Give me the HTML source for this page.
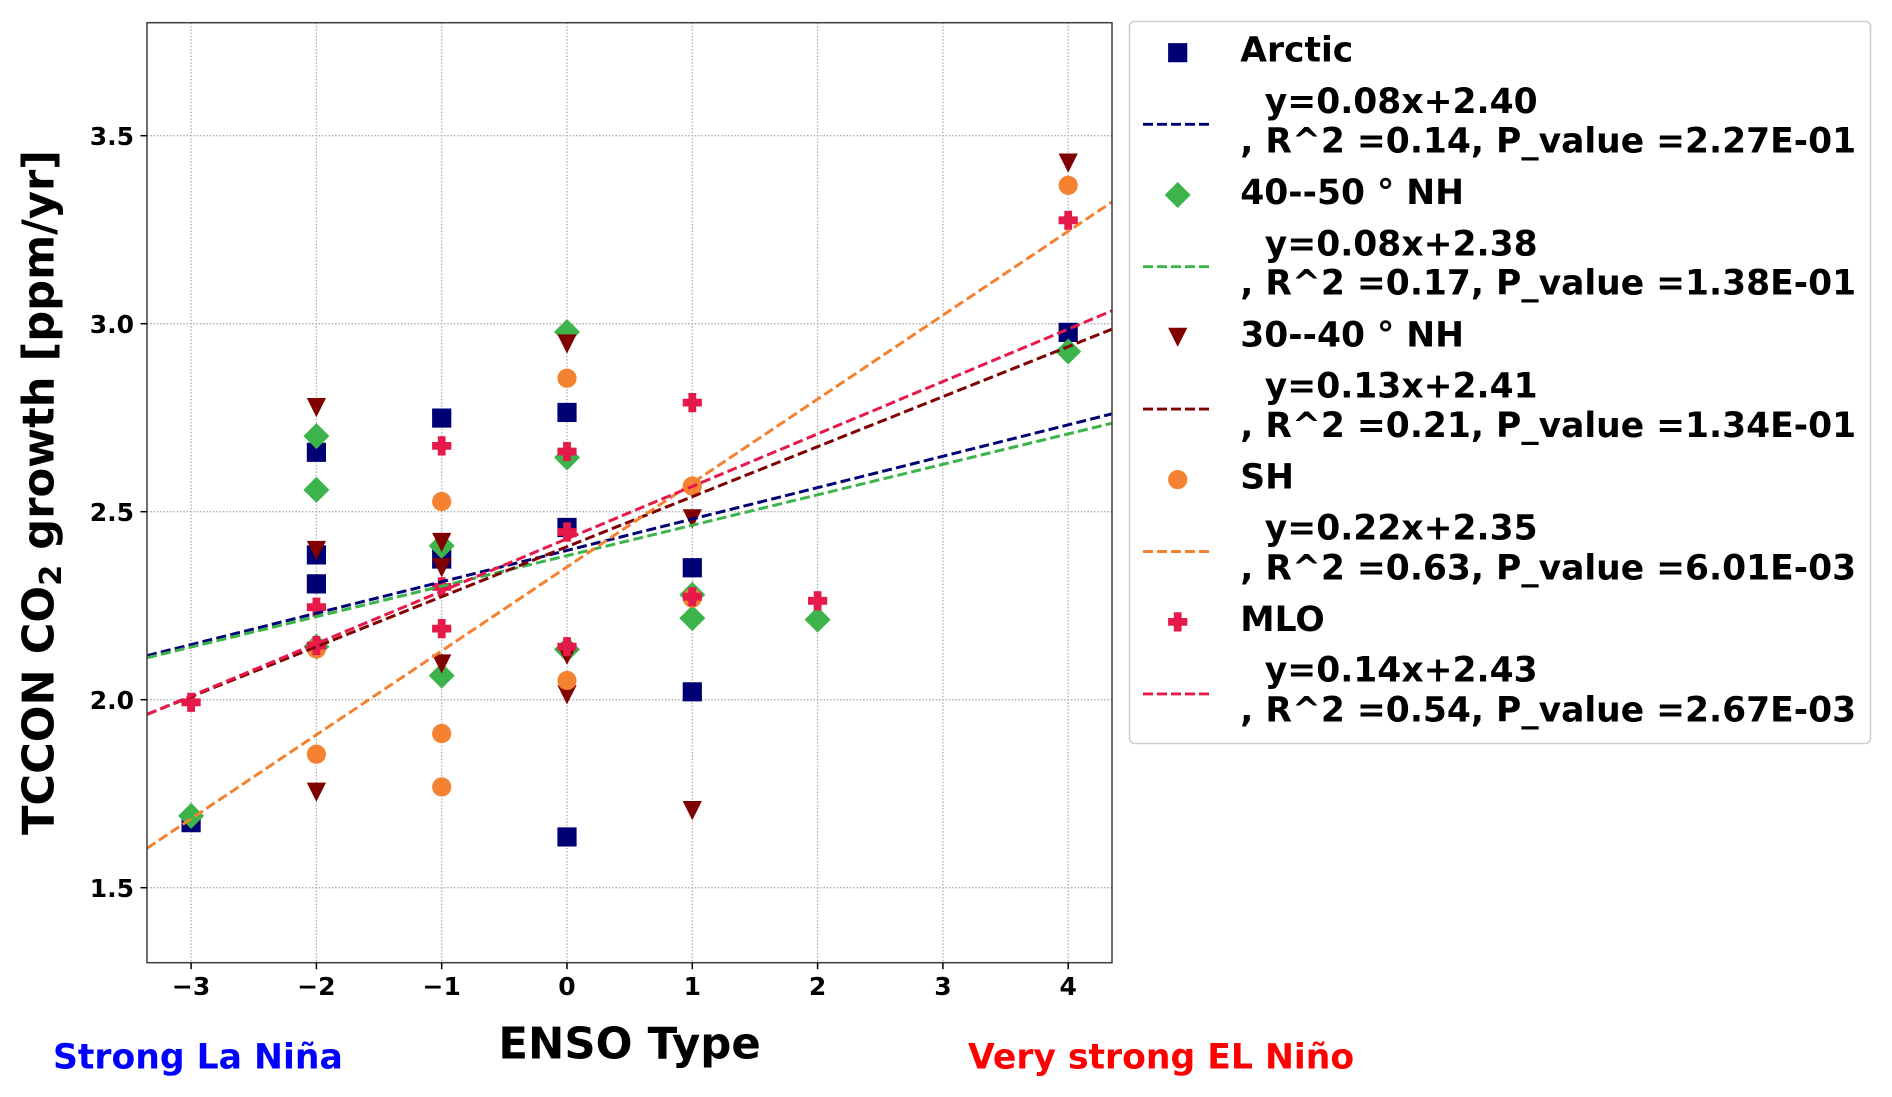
<!DOCTYPE html>
<html lang="en">
<head>
<meta charset="utf-8">
<title>TCCON CO2 growth vs ENSO Type</title>
<style>
html,body{margin:0;padding:0;background:#fff;}
#chart{display:block;width:1892px;height:1097px;filter:blur(0.3px);}
text{font-family:"DejaVu Sans","Liberation Sans",sans-serif;font-weight:bold;fill:#000;}
.leg{font-size:34.5px;}
.tick{font-size:25px;}
</style>
</head>
<body>
<svg id="chart" xmlns="http://www.w3.org/2000/svg" width="1892" height="1097" viewBox="0 0 1892 1097">
  <rect x="0" y="0" width="1892" height="1097" fill="#fff"/>
  <defs><clipPath id="plot-clip"><rect x="147" y="22.7" width="965" height="940"/></clipPath></defs>
  <g id="grid"></g>
  <g id="points"></g>
  <g id="fits" clip-path="url(#plot-clip)"></g>
  <rect x="147" y="22.7" width="965" height="940" fill="none" stroke="#3d3d3d" stroke-width="1.5"/>
  <g id="ticks"></g>

  <text transform="translate(53.4,492.5) rotate(-90)" text-anchor="middle" font-size="43.2">TCCON CO<tspan dy="7.6" font-size="30.4">2</tspan><tspan dy="-7.6"> growth [ppm/yr]</tspan></text>
  <text x="629.6" y="1058.5" text-anchor="middle" font-size="43.4">ENSO Type</text>
  <text x="53" y="1068.5" font-size="34.6" style="fill:#0000ff">Strong La Niña</text>
  <text x="968" y="1068.5" font-size="34.6" style="fill:#ff0000">Very strong EL Niño</text>

  <g>
    <rect x="1134" y="21.5" width="736.5" height="722" rx="5" ry="5" fill="#fff" stroke="#d0d0d0" stroke-width="1.6" transform="translate(-4.5,0) scale(1,1)" style="width:741px"/>
    <g id="legend-glyphs"></g>
    <text class="leg" x="1240.3" y="61.7">Arctic</text>
    <text class="leg" x="1264.8" y="113">y=0.08x+2.40</text>
    <text class="leg" x="1240.3" y="152.7">, R^2 =0.14, P_value =2.27E-01</text>
    <text class="leg" x="1240.3" y="204">40--50 ° NH</text>
    <text class="leg" x="1264.8" y="255.3">y=0.08x+2.38</text>
    <text class="leg" x="1240.3" y="294.7">, R^2 =0.17, P_value =1.38E-01</text>
    <text class="leg" x="1240.3" y="346.6">30--40 ° NH</text>
    <text class="leg" x="1264.8" y="397.4">y=0.13x+2.41</text>
    <text class="leg" x="1240.3" y="436.8">, R^2 =0.21, P_value =1.34E-01</text>
    <text class="leg" x="1240.3" y="488.4">SH</text>
    <text class="leg" x="1264.8" y="539.4">y=0.22x+2.35</text>
    <text class="leg" x="1240.3" y="579.3">, R^2 =0.63, P_value =6.01E-03</text>
    <text class="leg" x="1240.3" y="630.9">MLO</text>
    <text class="leg" x="1264.8" y="681.7">y=0.14x+2.43</text>
    <text class="leg" x="1240.3" y="721.7">, R^2 =0.54, P_value =2.67E-03</text>
  </g>
</svg>

<script>
const xTickValues = [-3, -2, -1, 0, 1, 2, 3, 4];
const xTickLabels = ['\u22123', '\u22122', '\u22121', '0', '1', '2', '3', '4'];
const yTickValues = [1.5, 2.0, 2.5, 3.0, 3.5];
const yTickLabels = ['1.5', '2.0', '2.5', '3.0', '3.5'];

const seriesNames = ['arctic', '40-50-nh', '30-40-nh', 'sh', 'mlo'];

const arcticX = [-3, -2, -2, -2, -1, -1, 0, 0, 0, 1, 1, 4];
const arcticY = [1.673, 2.658, 2.385, 2.308, 2.749, 2.374, 2.764, 2.458, 1.635, 2.351, 2.021, 2.977];

const nh4050X = [-3, -2, -2, -2, -1, -1, 0, 0, 0, 1, 1, 2, 4];
const nh4050Y = [1.691, 2.701, 2.558, 2.141, 2.409, 2.064, 2.978, 2.644, 2.134, 2.279, 2.217, 2.213, 2.926];

const nh3040X = [-2, -2, -2, -1, -1, -1, 0, 0, 0, 1, 1, 4];
const nh3040Y = [2.777, 2.397, 1.754, 2.418, 2.351, 2.095, 2.946, 2.118, 2.013, 2.481, 1.705, 3.427];

const shX = [-2, -2, -1, -1, -1, 0, 0, 1, 1, 4];
const shY = [2.135, 1.855, 2.527, 1.910, 1.768, 2.855, 2.051, 2.568, 2.270, 3.368];

const mloX = [-3, -2, -2, -1, -1, -1, 0, 0, 0, 1, 1, 2, 4];
const mloY = [1.993, 2.246, 2.144, 2.675, 2.300, 2.189, 2.660, 2.446, 2.141, 2.790, 2.274, 2.263, 3.275];

const fitSlopes = [0.0835, 0.0810, 0.1330, 0.2232, 0.1394];
const fitIntercepts = [2.397, 2.383, 2.407, 2.353, 2.428];

const NS = 'http://www.w3.org/2000/svg';
const plot = {left: 147, right: 1112, top: 22.7, bottom: 962.7};
const xDomainMin = -3.352, xDomainMax = 4.35;
const colors = ['#000075', '#3cb44b', '#800000', '#f58231', '#e6194b'];
const shapes = ['square', 'diamond', 'triangle', 'circle', 'plus'];

function xScale(v) { return 567 + 125.3 * v; }
function yScale(v) { return 699.7 - (v - 2) * 376; }

function markerPath(shape, cx, cy) {
  const r = 9.6;
  if (shape === 'square') return `M${cx-r} ${cy-r}H${cx+r}V${cy+r}H${cx-r}Z`;
  if (shape === 'diamond') { const d = 13; return `M${cx} ${cy-d}L${cx+d} ${cy}L${cx} ${cy+d}L${cx-d} ${cy}Z`; }
  if (shape === 'triangle') return `M${cx-r} ${cy-r}H${cx+r}L${cx} ${cy+r}Z`;
  if (shape === 'circle') return `M${cx-r} ${cy}A${r} ${r} 0 1 0 ${cx+r} ${cy}A${r} ${r} 0 1 0 ${cx-r} ${cy}Z`;
  const a = 3.9;
  return `M${cx-a} ${cy-r}H${cx+a}V${cy-a}H${cx+r}V${cy+a}H${cx+a}V${cy+r}H${cx-a}V${cy+a}H${cx-r}V${cy-a}H${cx-a}Z`;
}

const gridLayer = document.getElementById('grid');
const tickLayer = document.getElementById('ticks');
const pointLayer = document.getElementById('points');
const fitLayer = document.getElementById('fits');
const legendLayer = document.getElementById('legend-glyphs');

function styleGrid(line) {
  line.setAttribute('stroke', '#a8a8a8');
  line.setAttribute('stroke-width', '1.3');
  line.setAttribute('stroke-dasharray', '1.4 1.9');
}
function styleTick(line) {
  line.setAttribute('stroke', '#000');
  line.setAttribute('stroke-width', '1.5');
}

xTickValues.forEach(function (v, i) {
  const px = xScale(v);
  const g = document.createElementNS(NS, 'line');
  g.setAttribute('x1', px); g.setAttribute('x2', px);
  g.setAttribute('y1', plot.top); g.setAttribute('y2', plot.bottom);
  styleGrid(g);
  
  
  gridLayer.appendChild(g);

  const t = document.createElementNS(NS, 'line');
  t.setAttribute('x1', px); t.setAttribute('x2', px);
  t.setAttribute('y1', plot.bottom); t.setAttribute('y2', plot.bottom + 6.5);
  styleTick(t);
  
  
  tickLayer.appendChild(t);

  const lab = document.createElementNS(NS, 'text');
  lab.setAttribute('x', px);
  lab.setAttribute('y', 995);
  lab.setAttribute('text-anchor', 'middle');
  lab.setAttribute('class', 'tick');
  lab.textContent = xTickLabels[i];
  
  
  tickLayer.appendChild(lab);
});

yTickValues.forEach(function (v, i) {
  const py = yScale(v);
  const g = document.createElementNS(NS, 'line');
  g.setAttribute('x1', plot.left); g.setAttribute('x2', plot.right);
  g.setAttribute('y1', py); g.setAttribute('y2', py);
  styleGrid(g);
  
  
  gridLayer.appendChild(g);

  const t = document.createElementNS(NS, 'line');
  t.setAttribute('x1', plot.left - 6.5); t.setAttribute('x2', plot.left);
  t.setAttribute('y1', py); t.setAttribute('y2', py);
  styleTick(t);
  
  
  tickLayer.appendChild(t);

  const lab = document.createElementNS(NS, 'text');
  lab.setAttribute('x', 134);
  lab.setAttribute('y', py + 9.3);
  lab.setAttribute('text-anchor', 'end');
  lab.setAttribute('class', 'tick');
  lab.textContent = yTickLabels[i];
  
  
  tickLayer.appendChild(lab);
});

const allX = [arcticX, nh4050X, nh3040X, shX, mloX];
const allY = [arcticY, nh4050Y, nh3040Y, shY, mloY];

allX.forEach(function (xs, s) {
  xs.forEach(function (xv, i) {
    const p = document.createElementNS(NS, 'path');
    p.setAttribute('d', markerPath(shapes[s], xScale(xv), yScale(allY[s][i])));
    p.setAttribute('fill', colors[s]);
    
    
    pointLayer.appendChild(p);
  });
});

fitSlopes.forEach(function (m, s) {
  const b = fitIntercepts[s];
  const l = document.createElementNS(NS, 'line');
  l.setAttribute('x1', xScale(xDomainMin));
  l.setAttribute('y1', yScale(m * xDomainMin + b));
  l.setAttribute('x2', xScale(xDomainMax));
  l.setAttribute('y2', yScale(m * xDomainMax + b));
  l.setAttribute('stroke', colors[s]);
  l.setAttribute('stroke-width', '3');
  l.setAttribute('stroke-dasharray', '10 4.3');
  
  
  fitLayer.appendChild(l);
});

seriesNames.forEach(function (name, s) {
  const mk = document.createElementNS(NS, 'path');
  mk.setAttribute('d', markerPath(shapes[s], 1177.7, 52.7 + 142.3 * s));
  mk.setAttribute('fill', colors[s]);
  
  
  legendLayer.appendChild(mk);

  const ln = document.createElementNS(NS, 'line');
  ln.setAttribute('x1', 1143);
  ln.setAttribute('x2', 1212.7);
  ln.setAttribute('y1', 124.3 + 142.4 * s);
  ln.setAttribute('y2', 124.3 + 142.4 * s);
  ln.setAttribute('stroke', colors[s]);
  ln.setAttribute('stroke-width', '2.9');
  ln.setAttribute('stroke-dasharray', '10 4');
  
  
  legendLayer.appendChild(ln);
});
</script>
</body>
</html>
